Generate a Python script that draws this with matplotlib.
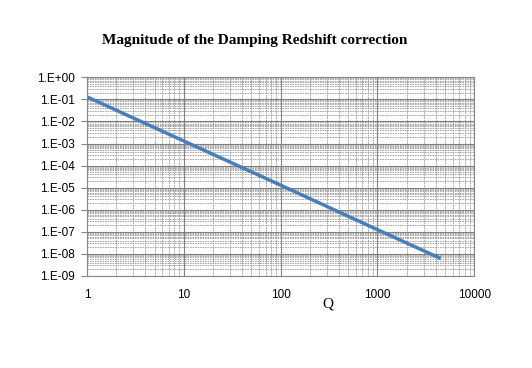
import numpy as np
import matplotlib.pyplot as plt
from matplotlib.ticker import LogLocator, FixedLocator, NullFormatter

# values
q_vals = [1, 10, 100, 1000, 4500]
corr_vals = [1.3e-1, 1.3e-3, 1.3e-5, 1.25e-7, 6.2e-9]
y_ticks = [10.0 ** k for k in range(-9, 1)]
y_labels = ['1.E-09', '1.E-08', '1.E-07', '1.E-06', '1.E-05',
            '1.E-04', '1.E-03', '1.E-02', '1.E-01', '1.E+00']
x_ticks = [1, 10, 100, 1000, 10000]
x_labels = ['1', '10', '100', '1000', '10000']

fig = plt.figure(figsize=(5.32, 3.68), dpi=100)
ax = fig.add_axes([0.1635, 0.25, 0.728, 0.54])

ax.plot(q_vals, corr_vals, color='#4a7ebb', lw=2.5, solid_capstyle='butt')
ax.set_xscale('log')
ax.set_yscale('log')
ax.set_xlim(1, 10000)
ax.set_ylim(1e-9, 1)

ax.xaxis.set_major_locator(FixedLocator(x_ticks))
ax.set_xticklabels(x_labels)
ax.yaxis.set_major_locator(FixedLocator(y_ticks))
ax.set_yticklabels(y_labels)
ax.xaxis.set_minor_locator(LogLocator(base=10, subs=np.arange(2, 10), numticks=20))
ax.yaxis.set_minor_locator(LogLocator(base=10, subs=np.arange(2, 10), numticks=20))
ax.xaxis.set_minor_formatter(NullFormatter())
ax.yaxis.set_minor_formatter(NullFormatter())

ax.grid(True, which='major', color='#808080', lw=0.8, ls='-')
ax.grid(True, which='minor', color='#9a9a9a', lw=0.6, ls=(0, (2, 1)))
ax.set_axisbelow(True)

for sp in ax.spines.values():
    sp.set_color('#868686')
    sp.set_linewidth(0.8)

ax.tick_params(which='both', length=0)
ax.tick_params(axis='y', which='major', length=4, color='#868686', pad=5)
ax.tick_params(axis='x', which='major', pad=9)
for lab in ax.get_xticklabels() + ax.get_yticklabels():
    lab.set_fontsize(8.5)
    lab.set_family('Liberation Sans')

fig.text(0.478, 0.89, 'Magnitude of the Damping Redshift correction',
         ha='center', va='center', family='Liberation Serif',
         fontweight='bold', fontsize=11)
fig.text(0.617, 0.175, 'Q', ha='center', va='center',
         family='Liberation Serif', fontsize=11)

fig.savefig('out.png', dpi=100)
